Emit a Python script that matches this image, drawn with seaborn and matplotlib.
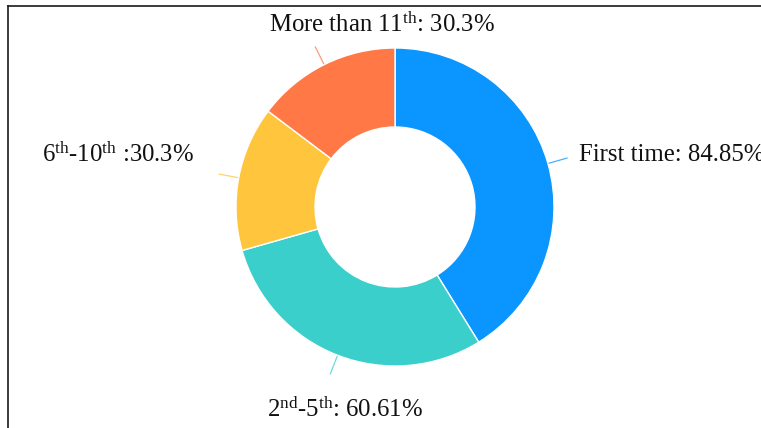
import numpy as np
import matplotlib
matplotlib.use("Agg")
import matplotlib.pyplot as plt
import seaborn as sns

# data
categories = ["First time",
              r"2$^{\mathrm{nd}}$-5$^{\mathrm{th}}$",
              r"6$^{\mathrm{th}}$-10$^{\mathrm{th}}$",
              r"More than 11$^{\mathrm{th}}$"]
values = [84.85, 60.61, 30.3, 30.3]
separators = [": ", ": ", " :", ": "]
colors = ["#0A95FF", "#3BCFCB", "#FFC53D", "#FF7845"]

# label layout: offset (px) of the text from the end of each leader line
label_dx = [12, 15, -25, 67]
label_dy = [-3, -43, 12, 15]
label_ha = ["left", "center", "right", "center"]

sns.set_theme(style="white")
plt.rcParams["font.family"] = ["Liberation Serif", "DejaVu Serif"]
plt.rcParams["mathtext.fontset"] = "custom"
plt.rcParams["mathtext.rm"] = "Liberation Serif"
plt.rcParams["mathtext.it"] = "Liberation Serif:italic"

W, H = 761, 428
fig = plt.figure(figsize=(W / 100, H / 100), dpi=100)
ax = fig.add_axes([8 / W, 0, (W - 8) / W, (H - 6) / H])

cx, cy = 395, H - 207
r_out, r_in = 159, 80

wedges, _ = ax.pie(
    values,
    colors=sns.color_palette(colors),
    startangle=90,
    counterclock=False,
    radius=r_out,
    center=(cx, cy),
    wedgeprops=dict(width=r_out - r_in, edgecolor="white", linewidth=1),
)

# leader lines + labels
for i, w in enumerate(wedges):
    ang = np.deg2rad((w.theta1 + w.theta2) / 2)
    x0, y0 = cx + (r_out + 1) * np.cos(ang), cy + (r_out + 1) * np.sin(ang)
    x1, y1 = cx + (r_out + 20) * np.cos(ang), cy + (r_out + 20) * np.sin(ang)
    ax.plot([x0, x1], [y0, y1], color=colors[i], lw=0.9, alpha=0.75)
    txt = f"{categories[i]}{separators[i]}{values[i]}%"
    ax.text(x1 + label_dx[i], y1 + label_dy[i], txt, ha=label_ha[i],
            va="baseline", fontsize=17.8, color="#111111")

# frame: top and left lines only
ax.set_xlim(8, W)
ax.set_ylim(0, H - 6)
ax.set_frame_on(True)
ax.set_xticks([])
ax.set_yticks([])
for side in ["right", "bottom"]:
    ax.spines[side].set_visible(False)
for side in ["top", "left"]:
    ax.spines[side].set_visible(True)
    ax.spines[side].set_color("#1a1a1a")
    ax.spines[side].set_linewidth(1.2)

fig.savefig("out.png", dpi=100)
